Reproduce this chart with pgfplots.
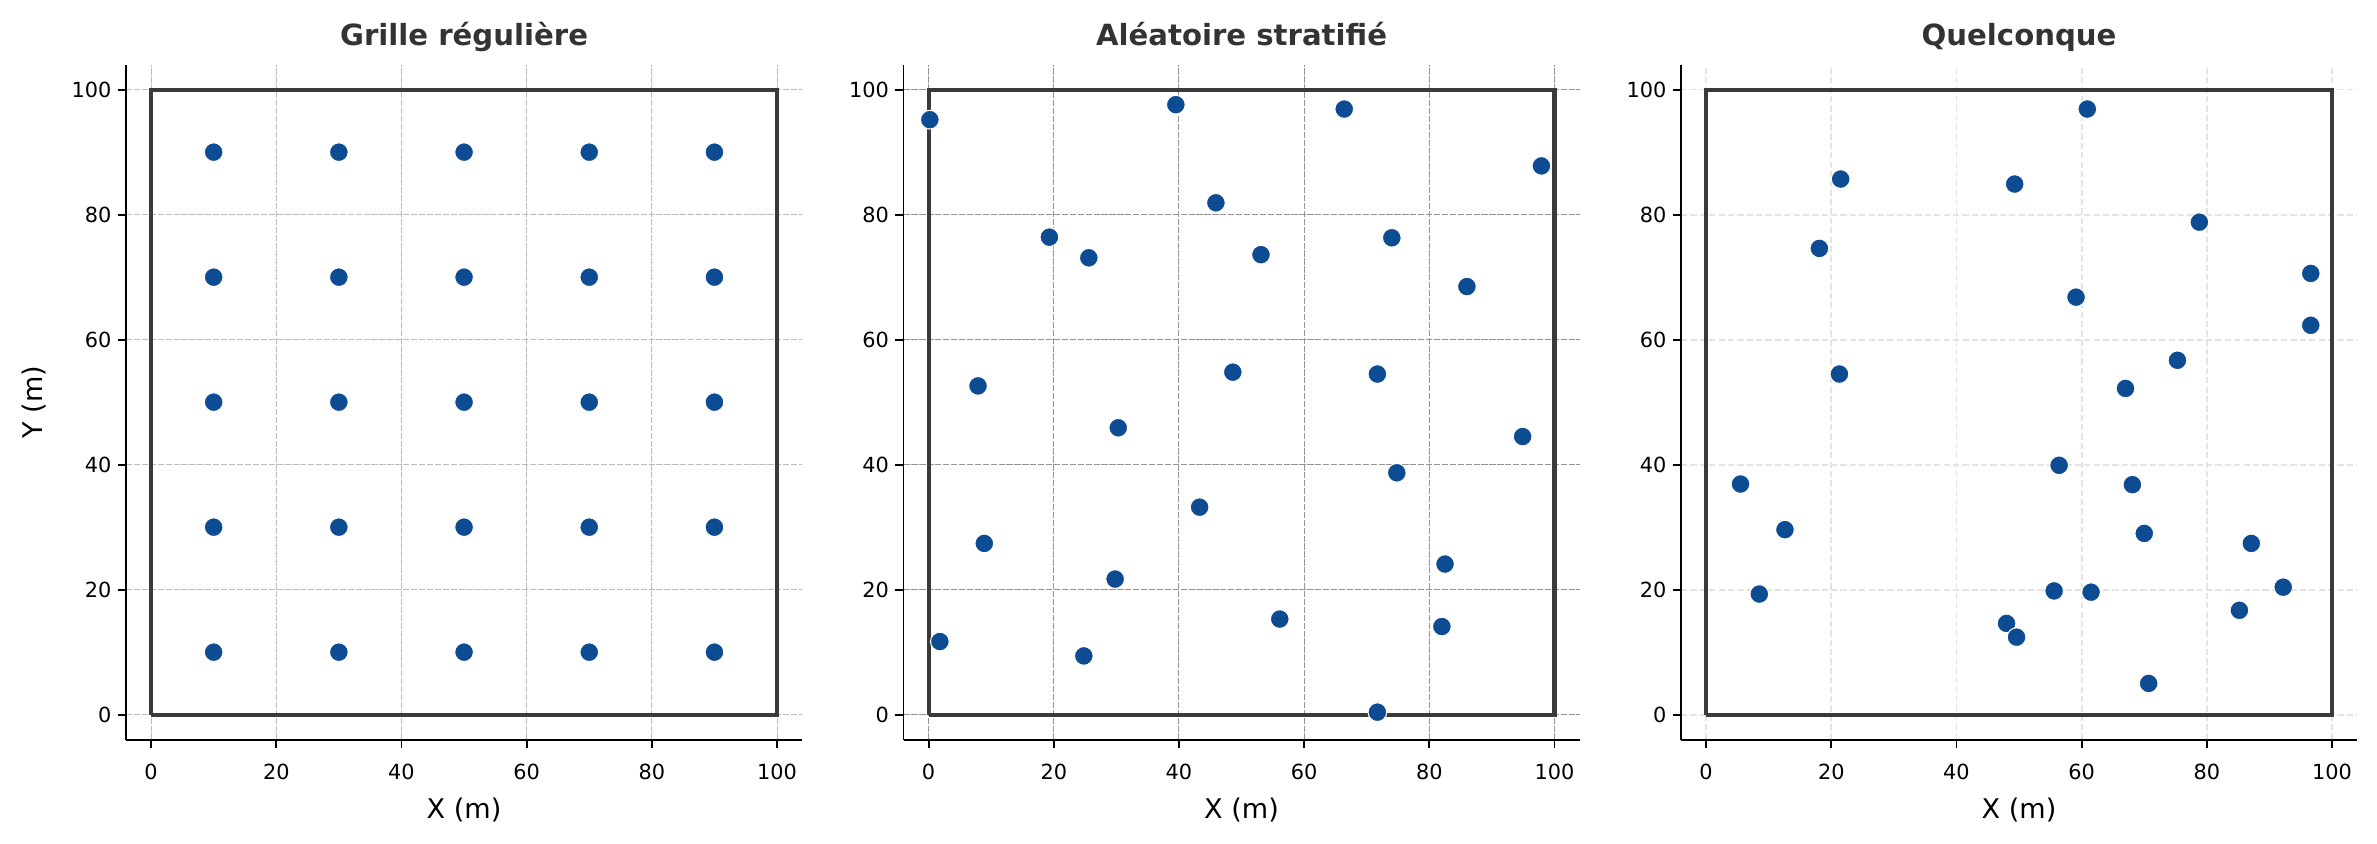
\documentclass[border=0pt]{standalone}
\usepackage{fontspec}
\setmainfont{DejaVu Sans}
\usepackage{pgfplots}
\pgfplotsset{compat=1.18}
\definecolor{ptc}{HTML}{0D4C92}
\definecolor{framec}{HTML}{3A3A3A}
\definecolor{ttlc}{HTML}{333333}

\pgfplotsset{panel/.style={
  scale only axis, width=324.5pt, height=324pt,
  xmin=-4, xmax=104, ymin=-4, ymax=104,
  axis x line*=bottom, axis y line*=left,
  axis line style={black, line width=0.9pt, -},
  xtick={0,20,40,60,80,100}, ytick={0,20,40,60,80,100},
  xticklabels={\mbox{0},\mbox{20},\mbox{40},\mbox{60},\mbox{80},\mbox{100}},
  yticklabels={\mbox{0},\mbox{20},\mbox{40},\mbox{60},\mbox{80},\mbox{100}},
  tick align=outside, major tick length=4pt,
  tick style={black, line width=0.9pt},
  /pgf/number format/assume math mode=true,
  tick label style={font=\fontsize{10}{12}\selectfont, inner sep=0pt},
  xticklabel style={anchor=base, yshift=-14.9pt},
  yticklabel style={anchor=east, xshift=-2.8pt},
  every axis title shift=0pt,
  title style={font=\fontsize{14}{17}\selectfont\bfseries, color=ttlc, at={(axis description cs:0.5,1)}, anchor=base, yshift=9.2pt},
  xlabel={X (m)},
  xlabel style={font=\fontsize{13}{15}\selectfont, at={(axis description cs:0.5,0)}, anchor=base, yshift=-37.6pt},
  ylabel style={font=\fontsize{13}{15}\selectfont, at={(axis description cs:0,0.5)}, anchor=base, yshift=40pt},
  xmajorgrids, ymajorgrids,
  clip=false,
},
frame/.style={color=framec, line width=2pt, line join=miter},
pts/.style={only marks, mark=*, mark size=4.5pt, mark options={fill=ptc, draw=white, line width=0.5pt}},
}

\begin{document}
\begin{tikzpicture}
\path[use as bounding box] (0pt,0pt) rectangle (1140.96pt,404.64pt);

% Panel 1
\begin{axis}[panel, at={(60.5pt,49.6pt)}, anchor=south west,
  title={Grille régulière}, ylabel={Y (m)},
  major grid style={color={rgb,255:red,188;green,188;blue,188}, line width=0.5pt, dash pattern=on 3pt off 0.8pt}]
\addplot[frame] coordinates {(0,0) (100,0) (100,100) (0,100) (0,0)};
\addplot[pts] table {
x y
10 10
10 30
10 50
10 70
10 90
30 10
30 30
30 50
30 70
30 90
50 10
50 30
50 50
50 70
50 90
70 10
70 30
70 50
70 70
70 90
90 10
90 30
90 50
90 70
90 90
};
\end{axis}

% Panel 2
\begin{axis}[panel, at={(433.7pt,49.6pt)}, anchor=south west,
  title={Aléatoire stratifié},
  major grid style={color={rgb,255:red,148;green,148;blue,148}, line width=0.5pt, dash pattern=on 3pt off 0.8pt}]
\addplot[frame] coordinates {(0,0) (100,0) (100,100) (0,100) (0,0)};
\addplot[pts] table {
x y
0.2 95.2
19.3 76.4
7.9 52.6
39.5 97.6
66.4 96.9
97.9 87.8
45.9 81.9
25.6 73.1
53.1 73.6
74.0 76.3
86.0 68.5
48.6 54.8
71.7 54.5
30.3 45.9
94.9 44.5
74.8 38.7
43.3 33.2
8.9 27.4
29.8 21.7
82.5 24.1
56.1 15.3
82.0 14.1
1.8 11.7
24.8 9.4
71.7 0.4
};
\end{axis}

% Panel 3
\begin{axis}[panel, at={(806.9pt,49.6pt)}, anchor=south west,
  title={Quelconque},
  major grid style={color={rgb,255:red,228;green,228;blue,228}, line width=0.8pt, dash pattern=on 3pt off 1.5pt}]
\addplot[frame] coordinates {(0,0) (100,0) (100,100) (0,100) (0,0)};
\addplot[pts] table {
x y
60.9 96.9
21.5 85.7
49.3 84.9
78.8 78.8
18.1 74.6
96.6 70.6
59.1 66.8
96.6 62.3
21.3 54.5
75.3 56.7
67.0 52.2
56.4 39.9
5.5 36.9
68.1 36.8
12.6 29.6
70.0 29.0
87.1 27.4
92.2 20.4
8.5 19.3
55.6 19.8
61.5 19.6
85.2 16.7
48.0 14.6
49.6 12.4
70.7 5.0
};
\end{axis}
\end{tikzpicture}
\end{document}
